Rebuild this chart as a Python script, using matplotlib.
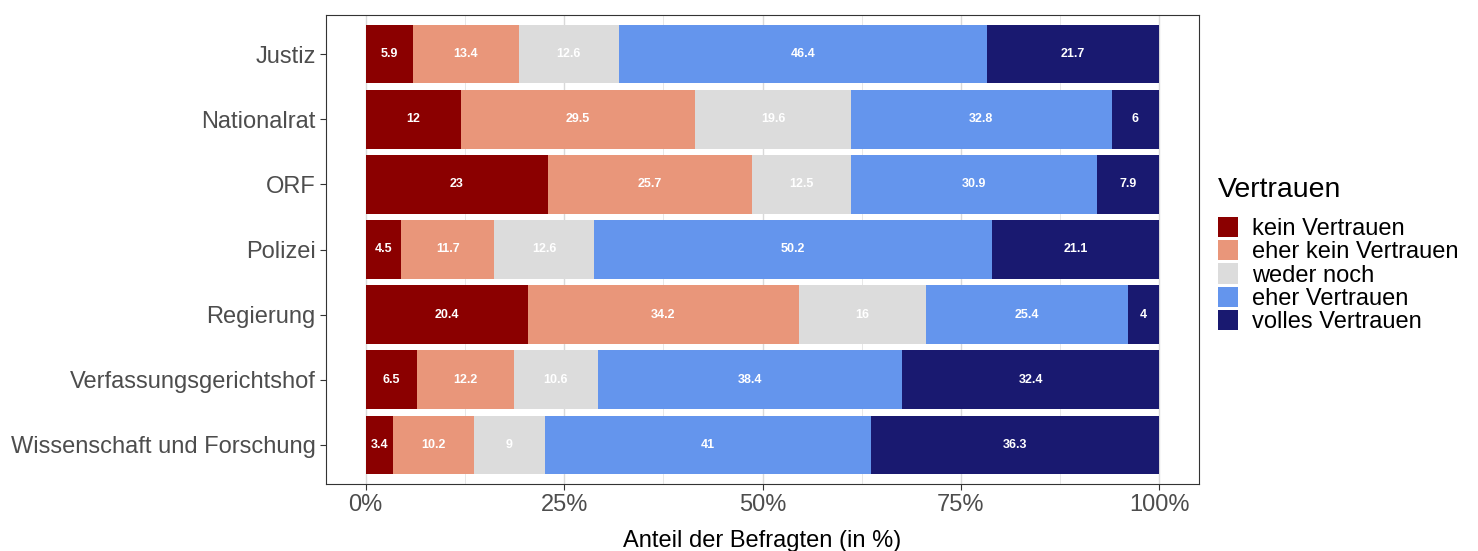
import numpy as np
import matplotlib.pyplot as plt
from matplotlib.patches import Patch

plt.rcParams['font.family'] = ['Liberation Sans', 'DejaVu Sans']

institutions = ['Justiz', 'Nationalrat', 'ORF', 'Polizei', 'Regierung',
                'Verfassungsgerichtshof', 'Wissenschaft und Forschung']
levels = ['kein Vertrauen', 'eher kein Vertrauen', 'weder noch',
          'eher Vertrauen', 'volles Vertrauen']
colors = ['#8B0000', '#E9967A', '#DCDCDC', '#6495ED', '#191970']

kein = [5.9, 12, 23, 4.5, 20.4, 6.5, 3.4]
eher_kein = [13.4, 29.5, 25.7, 11.7, 34.2, 12.2, 10.2]
weder = [12.6, 19.6, 12.5, 12.6, 16, 10.6, 9]
eher = [46.4, 32.8, 30.9, 50.2, 25.4, 38.4, 41]
volles = [21.7, 6, 7.9, 21.1, 4, 32.4, 36.3]

vals = np.array([kein, eher_kein, weder, eher, volles])
shares = vals / vals.sum(axis=0) * 100  # position = "fill"

fig = plt.figure(figsize=(14.78, 5.51), dpi=100)
ax = fig.add_axes([326/1478, 1-484/551, 873/1478, 469/551])

y = np.arange(len(institutions))
left = np.zeros(len(institutions))
for i in range(len(levels)):
    ax.barh(y, shares[i], left=left, height=0.9, color=colors[i], zorder=2)
    for j in range(len(institutions)):
        ax.text(left[j] + shares[i][j] / 2, y[j], '{:g}'.format(vals[i][j]),
                ha='center', va='center', color='white', fontsize=9,
                fontweight='bold', zorder=3)
    left += shares[i]

ax.set_xlim(-5, 105)
ax.set_ylim(len(institutions) - 0.4, -0.6)
ax.set_yticks(y)
ax.set_yticklabels(institutions)
ax.set_xticks([0, 25, 50, 75, 100])
ax.set_xticklabels(['0%', '25%', '50%', '75%', '100%'])
ax.set_xticks([12.5, 37.5, 62.5, 87.5], minor=True)
ax.tick_params(axis='both', labelsize=17, labelcolor='#4D4D4D', color='#333333',
               length=4, width=0.8)
ax.tick_params(axis='x', which='minor', length=0)
ax.grid(which='major', axis='x', color='#D9D9D9', linewidth=1.0, zorder=0)
ax.grid(which='minor', axis='x', color='#E3E3E3', linewidth=0.6, zorder=0)
ax.set_axisbelow(True)
for s in ax.spines.values():
    s.set_color('#333333')
    s.set_linewidth(0.8)
ax.set_xlabel('Anteil der Befragten (in %)', fontsize=17, labelpad=10)

handles = [Patch(facecolor=c, edgecolor='none') for c in colors]
leg = fig.legend(handles, levels, loc='upper left', bbox_to_anchor=(1206/1478, 1-165/551),
                 frameon=False, fontsize=17, title='Vertrauen', title_fontsize=20.5,
                 handlelength=0.85, handleheight=0.95, labelspacing=0.0,
                 handletextpad=0.6, borderpad=0)
leg._legend_box.align = 'left'
leg._legend_box.sep = 10

plt.savefig('out.png', dpi=100)
